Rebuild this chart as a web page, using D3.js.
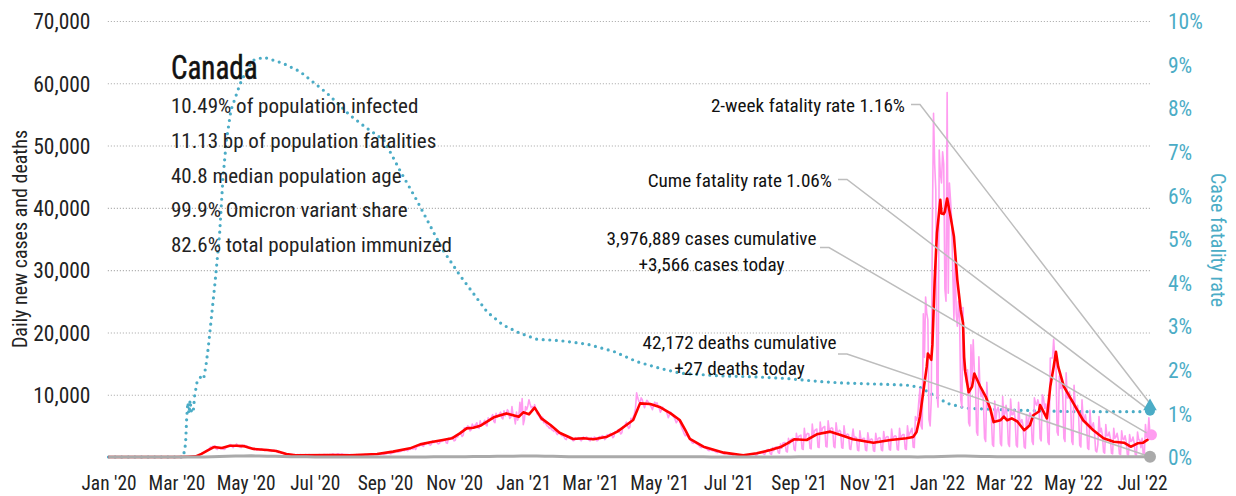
<!DOCTYPE html>
<html>
<head>
<meta charset="utf-8">
<script src="https://cdn.jsdelivr.net/npm/d3@7"></script>
<style>
  html, body { margin: 0; padding: 0; background: #fff; }
  svg text { font-family: "Liberation Sans Narrow", "Arial Narrow", "Roboto Condensed", "DejaVu Sans Condensed", sans-serif; }
</style>
</head>
<body>
<svg id="chart" width="1236" height="496"></svg>
<script>
// ---- Data -------------------------------------------------------------
const startDate = "2020-01-01";
const endDate = "2022-07-08";

// Daily new cases (thousands), one row per week starting each Wednesday from startDate
const dailyCasesK = [
  0,0,0,0,0,0,0, 0,0,0,0,0,0,0, 0,0,0,0,0,0,0, 0,0,0,0,0,0,0, 0,0,0,0,0,0,0,
  0,0,0,0,0,0,0, 0,0,0,0,0,0,0, 0,0,0,0,0,0,0, 0,0,0,0,0,0,0,
  0.01,0.01,0.01,0.01,0.01,0.02,0.02,
  0.03,0.04,0.05,0.06,0.08,0.1,0.12,
  0.15,0.2,0.25,0.35,0.4,0.5,0.6,
  0.7,0.8,1.0,1.1,1.2,1.3,1.6,
  1.5,1.7,1.6,1.8,1.3,1.2,1.5,
  1.4,1.3,1.5,1.3,1.2,1.3,1.6,
  1.6,1.8,1.9,2.0,1.7,1.5,1.8,
  1.8,2.1,1.8,1.7,1.6,1.5,1.9,
  1.7,1.9,1.7,1.8,1.5,1.4,1.5,
  1.4,1.3,1.4,1.2,1.3,1.1,1.2,
  1.2,1.1,1.3,1.2,1.1,1.0,1.2,
  1.1,1.2,1.0,1.0,0.9,1.0,1.1,
  1.0,0.9,0.8,0.7,0.8,0.7,0.6,
  0.6,0.5,0.5,0.4,0.5,0.4,0.4,
  0.4,0.4,0.3,0.4,0.3,0.3,0.4,
  0.3,0.4,0.3,0.3,0.3,0.3,0.4,
  0.3,0.3,0.4,0.3,0.3,0.3,0.3,
  0.3,0.3,0.3,0.3,0.4,0.3,0.3,
  0.3,0.4,0.4,0.3,0.4,0.3,0.4,
  0.4,0.4,0.5,0.4,0.4,0.4,0.5,
  0.5,0.4,0.4,0.5,0.4,0.4,0.4,
  0.4,0.4,0.4,0.3,0.4,0.3,0.3,
  0.3,0.3,0.4,0.3,0.4,0.3,0.3,
  0.3,0.3,0.4,0.4,0.3,0.3,0.4,
  0.4,0.4,0.4,0.4,0.5,0.4,0.4,
  0.4,0.5,0.4,0.5,0.5,0.4,0.5,
  0.5,0.6,0.6,0.6,0.5,0.6,0.7,
  0.7,0.8,0.9,0.8,0.8,0.9,0.9,
  1.0,1.1,1.0,1.2,1.1,1.0,1.3,
  1.2,1.4,1.3,1.3,1.5,1.2,1.6,
  1.8,1.7,1.9,2.1,1.8,1.7,2.3,
  2.1,2.3,2.2,2.0,1.9,2.1,2.6,
  2.3,2.4,2.5,2.3,2.1,2.2,2.6,
  2.5,2.6,2.6,2.8,2.3,2.2,3.0,
  2.8,2.9,3.2,3.0,2.6,2.7,3.4,
  3.2,3.6,3.8,3.7,3.3,3.5,4.7,
  4.4,4.6,5.0,4.8,4.2,4.4,5.3,
  4.8,5.0,5.2,5.5,4.7,4.6,5.8,
  5.1,5.3,5.6,5.9,5.2,5.0,6.3,
  5.8,6.1,6.4,6.8,5.7,5.5,7.0,
  6.4,6.7,6.9,7.2,6.3,6.1,7.4,
  6.6,7.0,7.6,7.3,6.2,6.4,8.1,
  6.8,6.5,5.3,7.2,5.9,6.4,8.8,
  7.0,9.4,5.2,6.0,8.1,7.6,8.2,
  9.2,8.5,7.9,8.1,7.5,8.4,7.8,
  7.0,6.8,6.6,6.2,5.9,6.4,5.5,
  5.6,5.3,5.0,4.9,4.6,4.8,4.4,
  4.3,4.1,4.5,3.9,3.6,3.8,4.0,
  3.6,3.4,3.5,3.2,2.9,2.8,3.3,
  3.2,3.0,2.9,2.8,2.6,2.7,3.1,
  2.9,3.0,3.1,2.8,2.6,2.8,3.2,
  3.0,3.1,3.2,2.9,2.7,2.6,3.1,
  2.8,3.1,3.2,2.9,2.6,2.7,3.3,
  3.0,3.3,3.4,3.2,2.8,3.0,3.6,
  3.4,3.6,3.8,3.5,3.1,3.3,4.1,
  4.0,4.2,4.4,4.1,3.7,3.9,4.9,
  4.8,5.2,5.6,5.0,4.6,4.8,6.2,
  6.0,6.4,6.9,7.8,10.3,9.5,8.9,
  8.7,9.5,9.2,8.4,7.9,8.6,9.1,
  8.9,8.6,8.3,8.0,7.6,8.3,8.8,
  8.5,8.7,8.1,7.8,7.2,7.6,8.0,
  7.7,7.5,7.3,6.9,6.3,6.8,7.2,
  6.9,6.6,6.4,6.0,5.5,5.8,6.1,
  5.8,5.1,4.6,4.2,3.7,3.4,3.6,
  3.3,3.1,2.8,2.6,2.3,2.2,2.4,
  2.3,2.1,2.0,1.8,1.6,1.5,1.7,
  1.6,1.5,1.4,1.3,1.1,1.0,1.2,
  1.1,1.0,1.0,0.9,0.8,0.7,0.9,
  0.8,0.7,0.7,0.6,0.5,0.5,0.6,
  0.6,0.5,0.4,0.4,0.4,0.3,0.5,
  0.4,0.4,0.3,0.3,0.3,0.2,0.4,
  0.3,0.3,0.3,0.3,0.2,0.2,0.4,
  0.4,0.4,0.4,0.5,0.3,0.3,0.6,
  0.6,0.6,0.7,0.8,0.5,0.4,0.9,
  1.1,1.2,1.2,0.5,0.4,1.5,1.0,
  1.5,1.6,1.6,0.7,0.6,2.1,1.4,
  2.2,2.3,2.3,0.9,0.8,3.0,2.1,
  2.8,2.9,3.0,1.2,1.0,3.8,2.6,
  3.3,3.4,3.5,1.3,1.2,4.6,3.0,
  3.6,3.8,3.7,1.4,1.3,5.3,3.4,
  4.2,4.4,4.5,1.6,1.5,5.6,3.9,
  4.6,4.8,4.9,1.7,1.6,5.8,4.3,
  4.5,4.7,4.6,1.7,1.5,5.5,4.1,
  4.0,4.3,4.1,1.5,1.4,5.0,3.6,
  3.5,3.7,3.6,1.3,1.2,3.0,4.5,
  3.0,3.2,3.1,1.1,1.0,4.2,2.8,
  2.8,3.0,3.0,1.1,1.0,3.9,2.7,
  2.7,2.9,2.8,1.0,0.9,3.8,2.6,
  2.9,3.1,3.0,1.1,1.0,4.1,2.8,
  3.1,3.3,3.2,1.2,1.1,4.5,3.0,
  3.2,3.4,3.3,1.2,1.1,4.6,3.1,
  3.4,3.6,3.6,1.3,1.2,5.0,3.4,
  3.8,4.2,4.6,1.6,1.5,6.5,5.9,
  6.5,9.0,11.0,5.0,4.5,23.0,16.0,
  25.7,23.1,22.0,6.0,5.0,9.2,38.0,
  55.2,47.0,42.9,10.0,8.0,49.3,45.6,
  44.0,49.0,47.0,27.0,25.0,58.5,26.3,
  44.0,41.2,38.0,29.5,22.0,33.0,23.1,
  21.0,25.0,22.0,9.2,8.0,24.0,14.0,
  13.5,12.0,14.0,5.5,5.0,18.0,12.5,
  18.8,14.0,12.0,4.0,3.5,16.1,11.0,
  9.7,10.5,9.0,3.0,2.5,12.0,8.0,
  8.0,7.5,6.5,2.0,1.7,9.0,6.0,
  7.5,8.0,7.0,2.2,1.8,9.7,6.5,
  7.0,8.3,6.5,2.1,1.7,9.3,6.8,
  6.8,7.6,6.2,1.9,1.6,8.8,6.0,
  5.5,6.0,5.0,1.6,1.4,6.8,4.5,
  6.0,7.1,6.8,2.5,2.0,9.5,8.6,
  8.3,9.2,8.5,3.0,2.6,10.0,9.5,
  7.8,8.5,7.0,2.4,2.0,15.9,15.9,
  15.9,18.9,15.9,15.9,4.0,3.5,13.0,
  11.0,12.0,10.0,3.0,2.5,13.5,9.5,
  9.5,10.5,8.5,2.5,2.0,11.5,8.0,
  7.5,8.3,6.8,1.9,1.6,9.2,6.2,
  6.0,6.8,5.5,1.4,1.2,7.5,5.0,
  4.9,5.5,4.2,1.0,0.8,2.0,6.5,
  4.0,4.6,3.5,0.8,0.6,5.2,3.4,
  3.4,4.0,3.0,0.6,0.5,4.6,3.0,
  3.2,3.8,2.8,0.5,0.4,4.2,2.9,
  2.8,3.4,2.5,0.4,0.3,3.6,2.5,
  2.6,3.2,2.3,0.4,0.3,4.0,2.8,
  2.7,1.5,3.0,0.5,0.4,5.2,3.2,
  3.3,6.3,3.566
];

// 7-day average of new cases (thousands), at day offsets from startDate
const avgCaseDays = [0,60,70,77,82,86,90,93,100,107,113,119,128,140,148,157,165,198,213,237,251,266,275,285,295,303,310,316,322,328,340,351,362,366,371,376,382,390,398,410,419,428,440,449,457,463,469,478,487,496,504,509,513,525,543,560,572,584,593,599,605,616,625,637,646,657,675,690,704,710,713,716,719,722,723,725,726,727,729,731,734,735,737,738,740,743,746,749,752,754,755,756,759,762,764,769,774,778,781,787,790,793,797,802,808,813,816,821,822,825,828,831,834,836,838,843,849,855,860,869,878,887,896,902,905,908,913,917,919];
const avgCasesK   = [0,0,0.05,0.1,0.5,0.9,1.3,1.6,1.45,1.8,1.8,1.75,1.3,1.12,0.95,0.48,0.27,0.32,0.27,0.48,0.86,1.39,2.03,2.4,2.73,3.0,3.8,4.6,4.7,5.0,6.37,7.0,6.47,7.17,6.85,7.92,6.2,5.14,3.9,2.89,3.0,2.84,3.26,4.07,5.14,5.94,8.61,8.5,7.97,7.0,5.94,4.3,2.9,1.66,0.7,0.27,0.59,1.12,1.6,2.19,2.84,2.73,3.64,4.07,3.53,2.84,2.3,2.73,3.0,3.2,4.0,6.5,10.5,14.5,16.6,16.0,15.6,18.0,28.4,36.0,41.3,39.1,39.0,39.4,41.5,38.6,35.4,28.4,23.6,21.5,16.0,13.7,10.4,11.3,13.4,11.4,9.7,7.8,5.6,5.9,6.5,5.9,6.2,5.7,4.3,5.1,6.7,7.3,8.35,7.3,6.2,11.3,14.5,16.9,14.5,11.3,9.4,7.5,5.9,4.3,3.0,2.45,2.3,1.65,1.9,2.2,2.3,2.8,3.1];

// Daily deaths, sampled every 7 days from startDate; the last entry is endDate
const dailyDeaths = [
  0,0,0,0,0,0,0,0,0,0,1,5,15,40,80,120,160,170,190,150,120,110,80,50,30,25,15,10,8,6,6,5,5,6,5,5,6,6,8,12,
  18,22,25,28,40,60,75,85,95,110,120,130,150,160,150,130,110,80,60,50,45,40,32,30,30,32,35,40,45,48,48,45,
  40,35,30,25,20,18,14,10,8,6,6,7,10,14,18,22,26,34,38,40,36,32,28,26,24,22,22,24,22,22,20,25,45,90,140,170,
  150,120,90,70,60,45,40,35,32,30,35,45,55,60,55,50,42,35,30,28,25,22,25,22,27
];

// Cumulative case fatality rate (%), at day offsets from startDate
const cfrDays = [0,66,68,69,70,71,72,73,74,75,76,78,80,82,84,86,88,90,92,94,96,98,101,104,108,116,122,128,137,154,169,193,213,228,243,257,272,295,310,322,334,348,363,378,398,422,446,466,487,505,540,569,599,628,646,704,716,728,740,757,793,851,910,919];
const cfrPct  = [0,0,0.3,0.9,1.25,1.0,1.3,1.05,1.15,1.1,1.4,1.7,1.8,1.85,1.8,2.1,2.5,3.0,3.5,4.0,4.55,5.1,6.4,7.25,7.95,8.55,8.88,9.1,9.17,9.03,8.84,8.34,7.84,7.54,7.27,6.58,5.89,4.75,4.17,3.75,3.33,3.03,2.84,2.7,2.67,2.59,2.42,2.19,2.03,1.92,1.86,1.84,1.8,1.73,1.7,1.65,1.6,1.42,1.23,1.12,1.08,1.04,1.04,1.06];

const twoWeekCfr = 1.16;
const cumulativeCases = 3976889;
const cumulativeDeaths = 42172;

const leftTicks = [10000, 20000, 30000, 40000, 50000, 60000, 70000];
const rightTicks = [0, 1, 2, 3, 4, 5, 6, 7, 8, 9, 10];

const countryName = "Canada";
const statLines = [
  "10.49% of population infected",
  "11.13 bp of population fatalities",
  "40.8 median population age",
  "99.9% Omicron variant share",
  "82.6% total population immunized"
];

// ---- Scales -----------------------------------------------------------
const parse = d3.timeParse("%Y-%m-%d");
const t0 = parse(startDate);
const dayToDate = d => d3.timeDay.offset(t0, d);

const x = d3.scaleTime().domain([t0, parse(endDate)]).range([108.5, 1150]);
const yL = d3.scaleLinear().domain([0, 70000]).range([457, 21]);
const yR = d3.scaleLinear().domain([0, 10]).range([457, 21]);

const TEAL = "#4bacc6", PINK = "#ff9cf0", RED = "#ff0000", GRAY = "#aaaaaa", LEAD = "#bdbdbd";

const svg = d3.select("#chart");

// ---- Grid and axes ----------------------------------------------------
svg.append("g")
  .attr("transform", "translate(1150,0)")
  .call(d3.axisLeft(yL).tickValues(leftTicks).tickSize(1043).tickFormat(""))
  .call(g => g.select(".domain").remove())
  .call(g => g.selectAll("line").attr("stroke", "#b4b4b4").attr("stroke-width", 1.1).attr("stroke-dasharray", "1.2,1.8"));

svg.append("g")
  .attr("transform", "translate(90.5,0)")
  .call(d3.axisLeft(yL).tickValues(leftTicks).tickSize(0).tickPadding(0).tickFormat(d3.format(",")))
  .call(g => g.select(".domain").remove())
  .call(g => g.selectAll("text").attr("fill", "#222").attr("font-size", 21.5).attr("dy", "0.36em"));

svg.append("g")
  .attr("transform", "translate(1168,0)")
  .call(d3.axisRight(yR).tickValues(rightTicks).tickSize(0).tickPadding(0).tickFormat(d => d + "%"))
  .call(g => g.select(".domain").remove())
  .call(g => g.selectAll("text").attr("fill", TEAL).attr("font-size", 21.5).attr("dy", "0.36em"));

svg.append("g")
  .attr("transform", "translate(0,490)")
  .call(d3.axisBottom(x).ticks(d3.timeMonth.every(2)).tickSize(0).tickPadding(0).tickFormat(d3.timeFormat("%b '%y")))
  .call(g => g.select(".domain").remove())
  .call(g => g.selectAll("text").attr("fill", "#222").attr("font-size", 19.4).attr("dy", 0));

svg.append("text")
  .attr("transform", "translate(27,239) rotate(-90)")
  .attr("text-anchor", "middle")
  .attr("font-size", 20).attr("fill", "#222")
  .text("Daily new cases and deaths");

svg.append("text")
  .attr("transform", "translate(1211,240) rotate(90)")
  .attr("text-anchor", "middle")
  .attr("font-size", 20).attr("fill", TEAL)
  .text("Case fatality rate");

// ---- Series -----------------------------------------------------------
const cfrSeries = cfrDays.map((d, i) => [dayToDate(d), cfrPct[i]]);
svg.append("path")
  .datum(cfrSeries)
  .attr("fill", "none").attr("stroke", TEAL).attr("stroke-width", 3.2)
  .attr("stroke-linecap", "round").attr("stroke-dasharray", "0,6.6")
  .attr("d", d3.line().x(d => x(d[0])).y(d => yR(d[1])));

const dailySeries = dailyCasesK.map((v, i) => [dayToDate(i), v * 1000]);
svg.append("path")
  .datum(dailySeries)
  .attr("fill", "none").attr("stroke", PINK).attr("stroke-width", 1.6)
  .attr("stroke-linejoin", "round")
  .attr("d", d3.line().x(d => x(d[0])).y(d => yL(d[1])));

const avgSeries = avgCaseDays.map((d, i) => [dayToDate(d), avgCasesK[i] * 1000]);
svg.append("path")
  .datum(avgSeries)
  .attr("fill", "none").attr("stroke", RED).attr("stroke-width", 2.6)
  .attr("stroke-linejoin", "round")
  .attr("d", d3.line().x(d => x(d[0])).y(d => yL(d[1])));

const deathDays = dailyDeaths.map((v, i) => i < dailyDeaths.length - 1 ? i * 7 : d3.timeDay.count(t0, parse(endDate)));
const deathSeries = dailyDeaths.map((v, i) => [dayToDate(deathDays[i]), v]);
svg.append("path")
  .datum(deathSeries)
  .attr("fill", "none").attr("stroke", GRAY).attr("stroke-width", 3)
  .attr("d", d3.line().x(d => x(d[0])).y(d => yL(d[1])));

// ---- Annotations ------------------------------------------------------
const lastDate = parse(endDate);
const casesToday = Math.round(dailyCasesK[dailyCasesK.length - 1] * 1000);
const deathsToday = dailyDeaths[dailyDeaths.length - 1];
const cumeCfr = cfrPct[cfrPct.length - 1];
const fmt = d3.format(",");
const xe = x(lastDate);

const notes = [
  { lines: [`2-week fatality rate ${twoWeekCfr.toFixed(2)}%`], anchor: "end", tx: 905, ty: 105.5, lx: 911, ty2: 104.5, target: yR(twoWeekCfr) - 3 },
  { lines: [`Cume fatality rate ${cumeCfr.toFixed(2)}%`], anchor: "end", tx: 832, ty: 180, lx: 838, ty2: 179.5, target: yR(cumeCfr) },
  { lines: [`${fmt(cumulativeCases)} cases cumulative`, `+${fmt(casesToday)} cases today`], anchor: "middle", tx: 711.5, ty: 238.5, lx: 820, ty2: 247.5, target: yL(casesToday) },
  { lines: [`${fmt(cumulativeDeaths)} deaths cumulative`, `+${deathsToday} deaths today`], anchor: "middle", tx: 739.5, ty: 342.5, lx: 838, ty2: 354, target: yL(deathsToday) }
];

notes.forEach(n => {
  svg.append("path")
    .attr("fill", "none").attr("stroke", LEAD).attr("stroke-width", 1.5)
    .attr("d", `M${n.lx},${n.ty2}H${n.lx + 9}L${xe},${n.target}`);
});

// end-of-series markers
svg.append("circle").attr("cx", xe).attr("cy", yL(deathsToday)).attr("r", 6).attr("fill", GRAY);
svg.append("circle").attr("cx", xe + 1.5).attr("cy", yL(casesToday)).attr("r", 5.5).attr("fill", PINK);
svg.append("circle").attr("cx", xe).attr("cy", yR(cumeCfr)).attr("r", 5).attr("fill", TEAL);
svg.append("path")
  .attr("transform", `translate(${xe},${yR(twoWeekCfr)})`)
  .attr("d", d3.symbol(d3.symbolTriangle, 80)())
  .attr("fill", TEAL);

notes.forEach(n => {
  n.lines.forEach((s, i) => {
    svg.append("text")
      .attr("x", n.tx).attr("y", n.ty + i * 26)
      .attr("dy", "0.35em")
      .attr("text-anchor", n.anchor)
      .attr("font-size", 19.2).attr("fill", "#111")
      .text(s);
  });
});

// ---- Country summary --------------------------------------------------
svg.append("text")
  .attr("transform", "translate(171,79) scale(0.88,1)")
  .attr("font-size", 33)
  .attr("fill", "#111").attr("stroke", "#111").attr("stroke-width", 0.5)
  .text(countryName);

svg.append("g").selectAll("text")
  .data(statLines)
  .join("text")
  .attr("x", 171)
  .attr("y", (d, i) => 113.3 + i * 34.7)
  .attr("font-size", 21).attr("fill", "#222")
  .text(d => d);
</script>
</body>
</html>
